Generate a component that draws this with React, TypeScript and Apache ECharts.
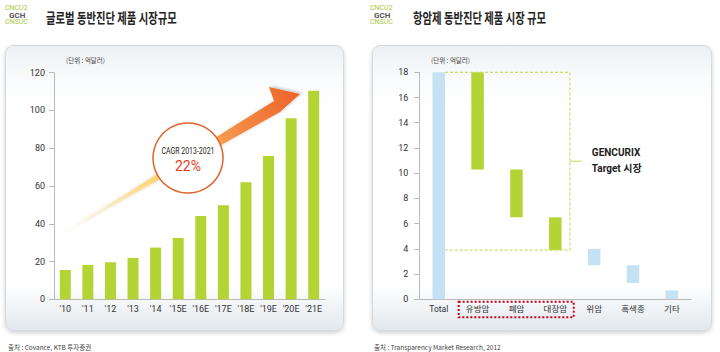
import React, { useEffect, useRef } from "react";
import * as echarts from "echarts";

// ---------- data ----------
const years = ["'10", "'11", "'12", "'13", "'14", "'15E", "'16E", "'17E", "'18E", "'19E", "'20E", "'21E"];
const marketSize = [15.5, 18.2, 19.6, 21.9, 27.4, 32.5, 44.1, 49.8, 62, 75.9, 95.9, 110.5];

const cancerTypes = ["Total", "유방암", "폐암", "대장암", "위암", "흑색종", "기타"];
const rangeLow = [0, 10.3, 6.5, 3.9, 2.7, 1.3, 0];
const rangeHigh = [18, 18, 10.3, 6.5, 4.0, 2.7, 0.7];
const isTarget = [false, true, true, true, false, false, false];

const leftTitle = "글로벌 동반진단 제품 시장규모";
const rightTitle = "항암제 동반진단 제품 시장 규모";
const unitText = "(단위 : 억달러)";
const leftSource = "출처 : Covance, KTB 투자증권";
const rightSource = "출처 : Transparency Market Research, 2012";
const cagrLabel = "CAGR 2013-2021";
const cagrValue = "22%";
const targetLines = ["GENCURIX", "Target 시장"];

const GREEN = "#b4d334";
const BLUE = "#c5e2f5";
const AXIS = "#b9b9b9";
const NUM_FONT = "Roboto, 'Noto Sans CJK KR', sans-serif";
const KR_FONT = "'Noto Sans CJK KR', Roboto, sans-serif";

function card(x: number, y: number, w: number, h: number) {
  return {
    type: "rect",
    z: -10,
    shape: { x, y, width: w, height: h, r: 8 },
    style: {
      fill: new echarts.graphic.LinearGradient(0, 0, 0, 1, [
        { offset: 0, color: "#edf0f3" },
        { offset: 0.12, color: "#fafbfc" },
        { offset: 0.22, color: "#ffffff" },
        { offset: 0.84, color: "#ffffff" },
        { offset: 1, color: "#e2e8ed" },
      ]),
      stroke: "#d3d9de",
      lineWidth: 1,
      shadowBlur: 4,
      shadowOffsetY: 2,
      shadowColor: "rgba(0,0,0,0.18)",
    },
  };
}

function logo(x: number, y: number) {
  return {
    type: "group",
    x,
    y,
    children: [
      { type: "text", x: 0, y: 3, style: { text: "CNCU2", fontSize: 7, fontFamily: NUM_FONT, fill: "#a6c83c", textVerticalAlign: "middle" } },
      { type: "text", x: 4, y: 10, style: { text: "GCH", fontSize: 8, fontWeight: "bold", fontFamily: NUM_FONT, fill: "#555", textVerticalAlign: "middle" } },
      { type: "text", x: 0, y: 17, style: { text: "CNSUC", fontSize: 7, fontFamily: NUM_FONT, fill: "#a6c83c", textVerticalAlign: "middle" } },
    ],
  };
}

function txt(x: number, y: number, text: string, extra: any = {}, scaleX = 1) {
  return {
    type: "text",
    x,
    y,
    scaleX,
    z: 20,
    style: {
      text,
      fontSize: 7,
      fontFamily: KR_FONT,
      fill: "#333",
      textVerticalAlign: "middle",
      ...extra,
    },
  };
}

export default function App() {
  const ref = useRef<HTMLDivElement>(null);

  useEffect(() => {
    const el = ref.current;
    if (!el) return;
    const chart = echarts.init(el, null, { renderer: "svg" });

    const axisLabel = { fontSize: 9, color: "#333", fontFamily: NUM_FONT };

    chart.setOption({
      animation: false,
      backgroundColor: "#ffffff",
      grid: [
        { left: 54, top: 72.7, width: 271, height: 226.6 },
        { left: 419.3, top: 72.3, width: 272, height: 227 },
      ],
      xAxis: [
        {
          gridIndex: 0,
          type: "category",
          data: years,
          axisLine: { lineStyle: { color: AXIS } },
          axisTick: { inside: true, length: 4, lineStyle: { color: AXIS } },
          axisLabel: { ...axisLabel, margin: 5 },
        },
        {
          gridIndex: 1,
          type: "category",
          data: cancerTypes,
          axisLine: { lineStyle: { color: AXIS } },
          axisTick: { inside: true, length: 4, lineStyle: { color: AXIS } },
          axisLabel: { ...axisLabel, fontSize: 8.5, margin: 5 },
        },
      ],
      yAxis: [
        {
          gridIndex: 0,
          type: "value",
          min: 0,
          max: 120,
          interval: 20,
          axisLine: { show: true, lineStyle: { color: AXIS } },
          axisTick: { show: true, length: 5, lineStyle: { color: AXIS } },
          splitLine: { show: false },
          axisLabel: { ...axisLabel, margin: 9 },
        },
        {
          gridIndex: 1,
          type: "value",
          min: 0,
          max: 18,
          interval: 2,
          axisLine: { show: true, lineStyle: { color: AXIS } },
          axisTick: { show: true, length: 5, lineStyle: { color: AXIS } },
          splitLine: { show: false },
          axisLabel: { ...axisLabel, margin: 11 },
        },
      ],
      series: [
        {
          type: "bar",
          xAxisIndex: 0,
          yAxisIndex: 0,
          data: marketSize,
          barWidth: 11,
          itemStyle: { color: GREEN },
        },
        {
          type: "bar",
          xAxisIndex: 1,
          yAxisIndex: 1,
          stack: "range",
          data: rangeLow,
          barWidth: 12.5,
          silent: true,
          itemStyle: { color: "rgba(0,0,0,0)" },
        },
        {
          type: "bar",
          xAxisIndex: 1,
          yAxisIndex: 1,
          stack: "range",
          barWidth: 12.5,
          data: rangeHigh.map((h, i) => ({
            value: +(h - rangeLow[i]).toFixed(2),
            itemStyle: { color: isTarget[i] ? GREEN : BLUE },
          })),
        },
      ],
    });

    // annotation positions from the right chart's scales
    const p0 = chart.convertToPixel({ gridIndex: 1 }, [0, 18]) as number[];
    const p1 = chart.convertToPixel({ gridIndex: 1 }, [1, 18]) as number[];
    const p3 = chart.convertToPixel({ gridIndex: 1 }, [3, rangeLow[3]]) as number[];
    const pZero = chart.convertToPixel({ gridIndex: 1 }, [0, 0]) as number[];
    const band = p1[0] - p0[0];
    const boxL = p0[0] + 12.5 / 2;
    const boxR = p3[0] + band * 0.375;
    const boxT = p0[1];
    const boxB = p3[1];
    const boxM = (boxT + boxB) / 2;

    const arrowPts = [
      [60, 235],
      [274, 101],
      [269, 87],
      [300, 94],
      [280, 112],
    ];

    chart.setOption({
      graphic: [
        card(5.5, 45.5, 338, 285),
        card(372.5, 45.5, 339, 285),
        logo(5, 5),
        logo(370, 5),
        txt(46, 17, leftTitle, { fontSize: 14, fontWeight: "bold", fill: "#222" }, 0.74),
        txt(413, 17, rightTitle, { fontSize: 14, fontWeight: "bold", fill: "#222" }, 0.74),
        txt(66, 60, unitText, { fontSize: 6.5, fill: "#444" }),
        txt(431, 60, unitText, { fontSize: 6.5, fill: "#444" }),
        txt(8, 347, leftSource, { fontSize: 6.5, fill: "#444" }),
        txt(374, 347, rightSource, { fontSize: 6.5, fill: "#444" }),
        // growth arrow
        {
          type: "polygon",
          z: 5,
          shape: { points: arrowPts },
          style: {
            fill: new echarts.graphic.LinearGradient(
              60,
              235,
              300,
              94,
              [
                { offset: 0, color: "rgba(255,246,205,0.3)" },
                { offset: 0.38, color: "#fdd77c" },
                { offset: 0.6, color: "#f8ac58" },
                { offset: 0.75, color: "#f38a45" },
                { offset: 1, color: "#ee6429" },
              ],
              true
            ),
            shadowBlur: 3,
            shadowOffsetX: 2,
            shadowOffsetY: -1,
            shadowColor: "rgba(0,0,0,0.22)",
          },
        },
        {
          type: "circle",
          z: 6,
          shape: { cx: 188, cy: 158, r: 35 },
          style: { fill: "#ffffff", stroke: "#e0612c", lineWidth: 1.5 },
        },
        txt(188, 151.5, cagrLabel, { fontSize: 8.5, fontFamily: NUM_FONT, fill: "#222", textAlign: "center" }, 0.82),
        txt(188, 166, cagrValue, { fontSize: 14, fontFamily: NUM_FONT, fill: "#e63c1e", textAlign: "center" }),
        // target market dashed bracket
        {
          type: "polyline",
          z: 4,
          shape: { points: [[boxL, boxT], [boxR, boxT], [boxR, boxB], [boxL, boxB]] },
          style: { stroke: "#c9df6a", lineWidth: 1.2, lineDash: [3, 2], fill: null },
        },
        {
          type: "line",
          z: 4,
          shape: { x1: boxR, y1: boxM, x2: boxR + 12, y2: boxM },
          style: { stroke: "#c9df6a", lineWidth: 1.2 },
        },
        txt(boxR + 22, boxM - 8.5, targetLines[0], { fontSize: 10, fontWeight: "bold", fontFamily: NUM_FONT, fill: "#222" }),
        txt(boxR + 22, boxM + 7, targetLines[1], { fontSize: 10, fontWeight: "bold", fontFamily: NUM_FONT, fill: "#222" }),
        // red dotted box around target categories' labels
        {
          type: "rect",
          z: 4,
          shape: {
            x: p1[0] - band / 2 + 0.5,
            y: pZero[1] + 2.5,
            width: band * 3 - 1.5,
            height: 15.5,
          },
          style: { fill: null, stroke: "#d0021b", lineWidth: 2, lineDash: [2, 2] },
        },
      ],
    });

    return () => chart.dispose();
  }, []);

  return (
    <div
      ref={ref}
      style={{ position: "absolute", left: 0, top: 0, width: 720, height: 352 }}
    />
  );
}
